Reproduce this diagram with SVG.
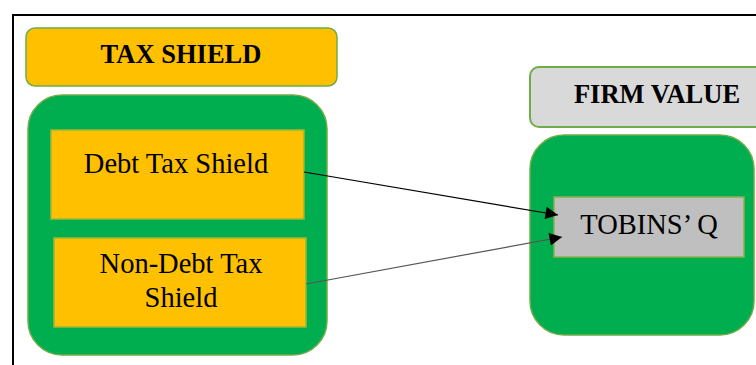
<svg xmlns="http://www.w3.org/2000/svg" width="756" height="365" viewBox="0 0 756 365">
  <style>
    .frame { fill: none; stroke: #000; stroke-width: 2; }
    .container { fill: #00AE4F; stroke: #70AD47; stroke-width: 1.5; }
    .title-gold { fill: #FFC000; stroke: #70AD47; stroke-width: 1.5; }
    .title-grey { fill: #D9D9D9; stroke: #70AD47; stroke-width: 2; }
    .item-gold { fill: #FFC000; stroke: #9CB83B; stroke-width: 1.5; }
    .item-grey { fill: #BFBFBF; stroke: #8DB04A; stroke-width: 1.5; }
    .title { font-family: "Liberation Serif", "Times New Roman", serif; font-weight: bold; font-size: 26.5px; fill: #000; text-anchor: middle; }
    .label { font-family: "Liberation Serif", "Times New Roman", serif; font-size: 28.5px; fill: #000; text-anchor: middle; }
    .edge { fill: none; stroke-width: 1.2; }
  </style>
  <defs>
    <marker id="arrow" viewBox="0 0 10 10" refX="10" refY="5" markerWidth="16" markerHeight="12.5" markerUnits="userSpaceOnUse" orient="auto">
      <path d="M0,0 L10,5 L0,10 Z" fill="#000"/>
    </marker>
  </defs>

  <rect width="756" height="365" fill="#fff"/>
  <!-- page frame -->
  <path class="frame" d="M13,365 L13,15 L756,15"/>

  <!-- left group: tax shield -->
  <g id="tax-shield-title">
    <rect class="title-gold" x="26" y="28" width="311" height="58" rx="9"/>
    <text class="title" x="181" y="63">TAX SHIELD</text>
  </g>
  <g id="tax-shield-container">
    <rect class="container" x="28" y="95" width="299" height="260" rx="34"/>
  </g>
  <g id="debt-tax-shield">
    <rect class="item-gold" x="51" y="130" width="253" height="89"/>
    <text class="label" x="176" y="173">Debt Tax Shield</text>
  </g>
  <g id="non-debt-tax-shield">
    <rect class="item-gold" x="54" y="238" width="252" height="89"/>
    <text class="label" x="181" y="273">Non-Debt Tax</text>
    <text class="label" x="181" y="307">Shield</text>
  </g>

  <!-- right group: firm value -->
  <g id="firm-value-title">
    <rect class="title-grey" x="530" y="67" width="235" height="60" rx="9"/>
    <text class="title" x="657" y="103">FIRM VALUE</text>
  </g>
  <g id="firm-value-container">
    <rect class="container" x="530" y="135" width="224" height="200" rx="34"/>
  </g>
  <g id="tobins-q">
    <rect class="item-grey" x="554" y="197" width="190" height="60"/>
    <text class="label" x="649" y="234">TOBINS’ Q</text>
  </g>

  <!-- connectors -->
  <g id="connectors">
    <line class="edge" x1="304" y1="172" x2="558" y2="215" stroke="#000" marker-end="url(#arrow)"/>
    <line class="edge" x1="306" y1="284" x2="562" y2="237" stroke="#555" marker-end="url(#arrow)"/>
  </g>
</svg>
